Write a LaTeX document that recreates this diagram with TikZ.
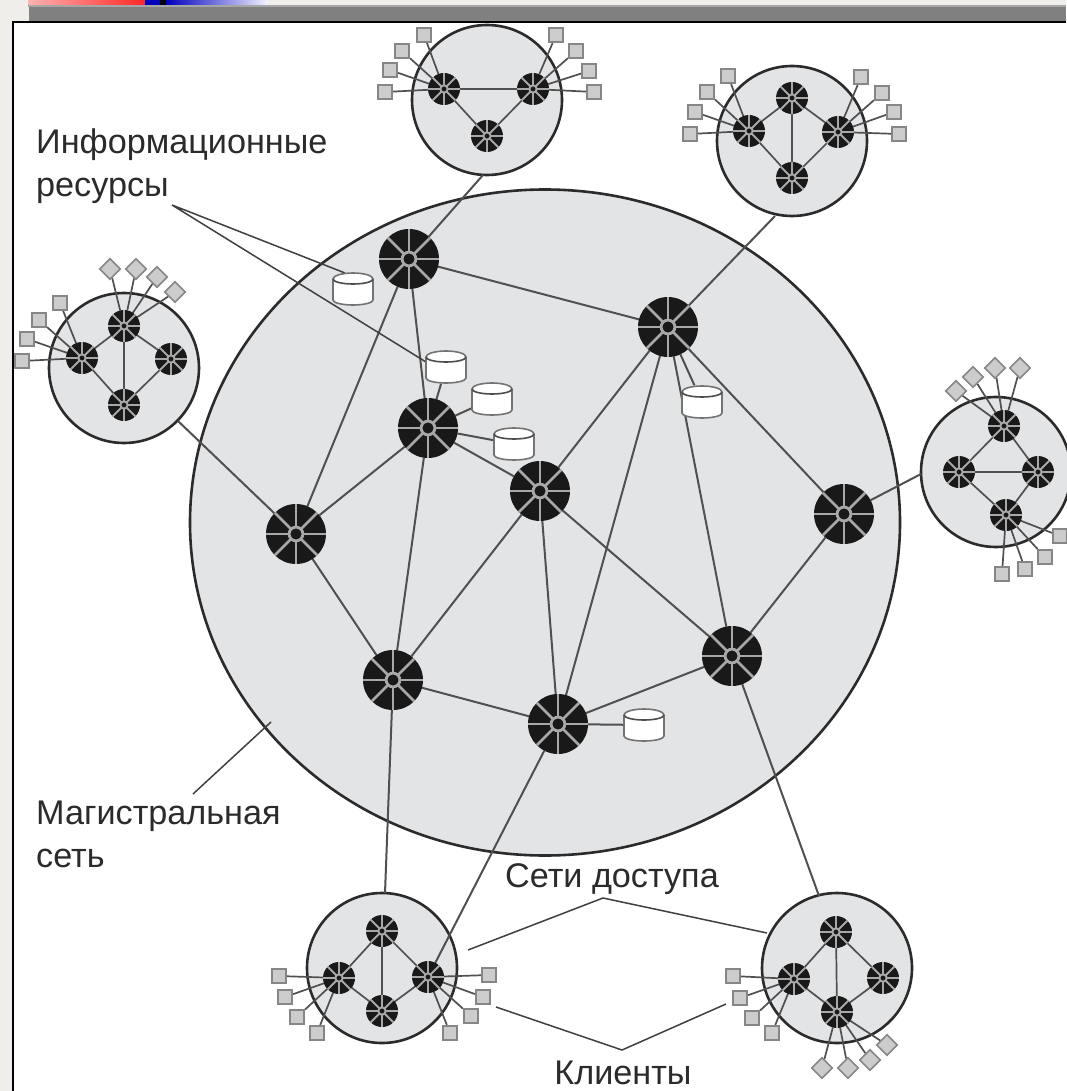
\documentclass[tikz,border=0pt]{standalone}
\usepackage{fontspec}
\setmainfont{Liberation Sans}
\usetikzlibrary{shapes.geometric}
\pgfdeclarelayer{page}
\pgfdeclarelayer{back}
\pgfdeclarelayer{links}
\pgfsetlayers{page,back,links,main}
\definecolor{paper}{HTML}{EFEEEB}
\definecolor{netfill}{HTML}{E3E4E6}
\definecolor{ink}{HTML}{2B2B2B}
\definecolor{linkc}{HTML}{505050}
\definecolor{spokec}{HTML}{A8A8A8}
\tikzset{
 net/.style={circle,draw=ink,line width=2.6pt,fill=netfill,inner sep=0pt},
 bignet/.style={ellipse,draw=ink,line width=2.6pt,fill=netfill,inner sep=0pt,minimum width=710pt,minimum height=666pt},
 routerdisc/.style={circle,fill=black!90,inner sep=0pt,outer sep=0pt},
 spoke/.style={draw=spokec},
 hub/.style={circle,draw=spokec,fill=black!90,inner sep=0pt},
 link/.style={draw=linkc,line width=1.7pt},
 clink/.style={draw=linkc,line width=2pt},
 callout/.style={draw=ink!90,line width=1.5pt},
 sqr/.style={rectangle,draw=gray!95,fill=gray!40,line width=1.6pt,minimum size=14.5pt,inner sep=0pt},
 dia/.style={sqr,rotate=45},
 dbox/.style={rectangle,minimum width=40pt,minimum height=33pt,inner sep=0pt},
 dbody/.style={draw=gray!90!black,line width=1.6pt,fill=white},
 lbl/.style={font=\fontsize{34.2}{43}\selectfont,text=ink,inner sep=0pt,align=left},
}
% router: name, x, y, radius, spoke width
\newcommand\routerdraw[5]{%
 \node[routerdisc,minimum size=#4*2pt] (#1) at (#2,#3) {};
 \foreach \ang in {0,45,...,315}{\draw[spoke,line width=#5pt] (#2,#3) ++(\ang:#4*0.22pt) -- ++(\ang:#4*0.78pt);}
 \node[hub,line width=#5pt,minimum size=#4*0.46pt] at (#2,#3) {};
}
\newcommand\bigrouter[3]{\routerdraw{#1}{#2}{#3}{30}{2.8}}
\newcommand\smallrouter[3]{\routerdraw{#1}{#2}{#3}{16}{2}}
% database: name, x, y
\newcommand\dbase[3]{%
 \node[dbox] (#1) at (#2,#3) {};
 \draw[dbody] (#2-20,#3-10) arc[start angle=180,end angle=0,x radius=20pt,y radius=6pt]
   -- (#2+20,#3+11) arc[start angle=0,end angle=-180,x radius=20pt,y radius=5pt] -- cycle;
 \draw[draw=gray!60!black,line width=1.6pt] (#2-20,#3-10) arc[start angle=180,end angle=360,x radius=20pt,y radius=5pt];
}
\begin{document}
\begin{tikzpicture}[x=1pt,y=-1pt]
\useasboundingbox (0,0) rectangle (1066,1091);
\begin{pgfonlayer}{page}
\fill[paper] (0,0) rectangle (1066,1091);
\shade[left color=red!30,right color=red!85] (28,0) rectangle (145,6);
\fill[blue!75!black] (145,0) rectangle (160,6);
\fill[black] (160,0) rectangle (166,6);
\shade[left color=blue!75!black,right color=blue!5] (166,0) rectangle (268,6);
\fill[gray!70] (28,5) rectangle (1066,7);
\fill[gray] (29,7) rectangle (1066,22);
\fill[white] (13,22) rectangle (1066,1091);
\draw[black,line width=2pt] (13,1091) -- (13,22) -- (1066,22);
\end{pgfonlayer}

\begin{pgfonlayer}{back}
 \node[bignet] (core) at (545,522.5) {};
 \node[net,minimum size=150pt] (nT) at (487,100) {};
 \node[net,minimum size=150pt] (nTR) at (792,141) {};
 \node[net,minimum size=150pt] (nL) at (124,368) {};
 \node[net,minimum size=150pt] (nR) at (996,472) {};
 \node[net,minimum size=150pt] (nBL) at (382,968) {};
 \node[net,minimum size=150pt] (nBR) at (837,968) {};
\end{pgfonlayer}

% backbone routers
\bigrouter{A}{409}{259}
\bigrouter{B}{668}{327}
\bigrouter{C}{428}{428}
\bigrouter{D}{540}{491}
\bigrouter{E}{296}{534}
\bigrouter{F}{844}{514}
\bigrouter{G}{393}{680}
\bigrouter{H}{732}{656}
\bigrouter{I}{558}{724}

% top network
\smallrouter{Ta}{444}{89}
\smallrouter{Tb}{533}{89}
\smallrouter{Tc}{487}{136}
\foreach \n/\x/\y in {s1/385/92,s2/390/70,s3/402/51,s4/424/35}{\node[sqr] (\n) at (\x,\y) {};}
\foreach \n/\x/\y in {s5/594/92,s6/589/71,s7/576/51,s8/556/35}{\node[sqr] (\n) at (\x,\y) {};}
% top-right network
\smallrouter{Ua}{792}{98}
\smallrouter{Ub}{749}{131}
\smallrouter{Uc}{838}{132}
\smallrouter{Ud}{792}{178}
\foreach \n/\x/\y in {u1/690/134,u2/695/112,u3/707/92,u4/728/76,u5/899/134,u6/894/112,u7/882/93,u8/861/77}{\node[sqr] (\n) at (\x,\y) {};}
% left network
\smallrouter{La}{124}{326}
\smallrouter{Lb}{82}{358}
\smallrouter{Lc}{171}{359}
\smallrouter{Ld}{124}{405}
\foreach \n/\x/\y in {l1/22/361,l2/27/339,l3/39/320,l4/60/303}{\node[sqr] (\n) at (\x,\y) {};}
\foreach \n/\x/\y in {l5/110/269,l6/136/269,l7/157/277,l8/175/292}{\node[dia] (\n) at (\x,\y) {};}
% right network
\smallrouter{Ra}{1004}{426}
\smallrouter{Rb}{959}{472}
\smallrouter{Rc}{1038}{472}
\smallrouter{Rd}{1006}{515}
\foreach \n/\x/\y in {r1/1002/574,r2/1025/569,r3/1045/557,r4/1060/536}{\node[sqr] (\n) at (\x,\y) {};}
\foreach \n/\x/\y in {r5/956/391,r6/973/377,r7/995/368,r8/1020/368}{\node[dia] (\n) at (\x,\y) {};}
% bottom-left network
\smallrouter{Va}{382}{931}
\smallrouter{Vb}{339}{978}
\smallrouter{Vc}{428}{977}
\smallrouter{Vd}{382}{1011}
\foreach \n/\x/\y in {v1/279/976,v2/285/997,v3/297/1017,v4/317/1033,v5/489/975,v6/483/997,v7/471/1016,v8/450/1033}{\node[sqr] (\n) at (\x,\y) {};}
% bottom-right network
\smallrouter{Wa}{836}{932}
\smallrouter{Wb}{794}{979}
\smallrouter{Wc}{883}{978}
\smallrouter{Wd}{837}{1012}
\foreach \n/\x/\y in {w1/733/976,w2/740/998,w3/752/1018,w4/772/1033}{\node[sqr] (\n) at (\x,\y) {};}
\foreach \n/\x/\y in {w5/822/1068,w6/848/1068,w7/870/1060,w8/887/1045}{\node[dia] (\n) at (\x,\y) {};}

% databases
\dbase{c1}{353}{289}
\dbase{c2}{446}{367}
\dbase{c3}{492}{399}
\dbase{c4}{514}{444}
\dbase{c5}{702}{402}
\dbase{c6}{644}{725}

% attachment points and callout ends
\coordinate (pT) at (483,175);
\coordinate (pTR) at (775,216);
\coordinate (pL) at (178,421);
\coordinate (pR) at (921,474);
\coordinate (pBL) at (385,893);
\coordinate (pBR) at (819,896);
\coordinate (pI) at (172,205);
\coordinate (pIa) at (345,273);
\coordinate (pIb) at (426,362);
\coordinate (pM) at (193,794);
\coordinate (pMb) at (271,722);
\coordinate (pS) at (603,898);
\coordinate (pSa) at (468,950);
\coordinate (pSb) at (767,933);
\coordinate (pK) at (622,1050);
\coordinate (pKa) at (496,1007);
\coordinate (pKb) at (726,1004);

\begin{pgfonlayer}{links}
 \foreach \a/\b in {A/B,A/C,A/E,C/E,C/D,C/G,D/B,D/G,D/I,D/H,B/F,B/I,B/H,E/G,G/I,I/H,H/F,
   pT/A,pTR/B,pL/E,pR/F,pBL/G,pBR/H,Vc/I,
   c2/C,c3/C,c4/C,c5/B,c6/I}{\draw[clink] (\a) -- (\b);}
 \foreach \a/\b in {Ta/Tb,Ta/Tc,Tb/Tc,
   Ua/Ub,Ua/Uc,Ua/Ud,Ub/Ud,Uc/Ud,
   La/Lb,La/Lc,La/Ld,Lb/Ld,Lc/Ld,
   Ra/Rb,Ra/Rc,Rb/Rc,Rb/Rd,Rc/Rd,
   Va/Vb,Va/Vc,Va/Vd,Vb/Vd,Vc/Vd,
   Wa/Wb,Wa/Wc,Wa/Wd,Wb/Wd,Wc/Wd,
   Ta/s1,Ta/s2,Ta/s3,Ta/s4,Tb/s5,Tb/s6,Tb/s7,Tb/s8,
   Ub/u1,Ub/u2,Ub/u3,Ub/u4,Uc/u5,Uc/u6,Uc/u7,Uc/u8,
   Lb/l1,Lb/l2,Lb/l3,Lb/l4,La/l5,La/l6,La/l7,La/l8,
   Rd/r1,Rd/r2,Rd/r3,Rd/r4,Ra/r5,Ra/r6,Ra/r7,Ra/r8,
   Vb/v1,Vb/v2,Vb/v3,Vb/v4,Vc/v5,Vc/v6,Vc/v7,Vc/v8,
   Wb/w1,Wb/w2,Wb/w3,Wb/w4,Wd/w5,Wd/w6,Wd/w7,Wd/w8}{\draw[link] (\a) -- (\b);}
 \draw[callout] (pIa) -- (pI) -- (pIb);
 \draw[callout] (pM) -- (pMb);
 \draw[callout] (pSa) -- (pS) -- (pSb);
 \draw[callout] (pKa) -- (pK) -- (pKb);
\end{pgfonlayer}

% labels
\node[lbl,anchor=north west] (t1) at (36,129) {Информационные\\ресурсы};
\node[lbl,anchor=north west] (t2) at (36,801) {Магистральная\\сеть};
\node[lbl] (t3) at (612,879) {Сети доступа};
\node[lbl] (t4) at (623,1073) {Клиенты};
\end{tikzpicture}
\end{document}
